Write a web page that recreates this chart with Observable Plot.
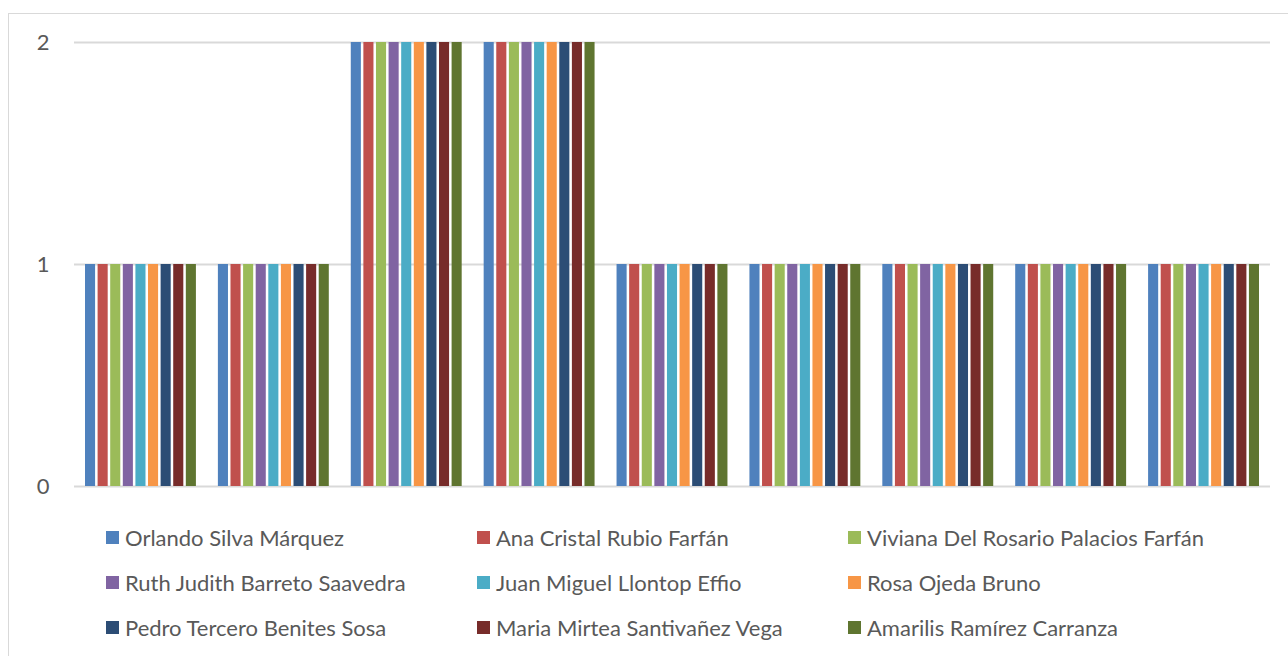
<!DOCTYPE html>
<html>
<head>
<meta charset="utf-8">
<script src="https://cdn.jsdelivr.net/npm/d3@7"></script>
<script src="https://cdn.jsdelivr.net/npm/@observablehq/plot@0.6"></script>
<style>
  html, body { margin: 0; padding: 0; background: #fff; overflow: hidden; }
  #frame { position: absolute; left: 8px; top: 13px; width: 1400px; height: 800px; border: 1.5px solid #d9d9d9; box-sizing: border-box; }
  #grid, #chart { position: absolute; left: 0; top: 0; }
  #legend { position: absolute; left: 0; top: 0; font-family: Lato, "Open Sans", sans-serif; font-size: 22px; color: #595959; }
  .item { position: absolute; display: flex; align-items: center; white-space: nowrap; }
  .sw { width: 13px; height: 13px; margin-right: 6px; }
</style>
</head>
<body>
<div id="frame"></div>
<div id="grid"></div>
<div id="chart"></div>
<div id="legend"></div>
<script>
const groups = ["1","2","3","4","5","6","7","8","9"];
const seriesNames = [
  "Orlando Silva Márquez",
  "Ana Cristal Rubio Farfán",
  "Viviana Del Rosario Palacios Farfán",
  "Ruth Judith Barreto Saavedra",
  "Juan Miguel Llontop Effio",
  "Rosa Ojeda Bruno",
  "Pedro Tercero Benites Sosa",
  "Maria Mirtea Santivañez Vega",
  "Amarilis Ramírez Carranza"
];
const colors = ["#4F81BD","#C0504D","#9BBB59","#8064A2","#4BACC6","#F79646","#2C4D75","#772C2A","#5F7530"];
const orlando   = [1,1,2,2,1,1,1,1,1];
const ana       = [1,1,2,2,1,1,1,1,1];
const viviana   = [1,1,2,2,1,1,1,1,1];
const ruth      = [1,1,2,2,1,1,1,1,1];
const juan      = [1,1,2,2,1,1,1,1,1];
const rosa      = [1,1,2,2,1,1,1,1,1];
const pedro     = [1,1,2,2,1,1,1,1,1];
const maria     = [1,1,2,2,1,1,1,1,1];
const amarilis  = [1,1,2,2,1,1,1,1,1];
const seriesValues = [orlando, ana, viviana, ruth, juan, rosa, pedro, maria, amarilis];
const yTicks = [0,1,2];

const data = [];
groups.forEach((g, gi) => {
  seriesNames.forEach((s, si) => {
    data.push({group: g, series: s, value: seriesValues[si][gi]});
  });
});

const font = {fontFamily: "Lato, 'Open Sans', sans-serif", fontSize: "22px", color: "#595959", background: "transparent"};

// Background: y axis + gridlines across the full plot area
const gridPlot = Plot.plot({
  width: 1288,
  height: 510,
  marginLeft: 74,
  marginRight: 18,
  marginTop: 42,
  marginBottom: 24,
  style: font,
  y: {domain: [0, 2], ticks: yTicks, tickSize: 0, tickPadding: 25, tickFormat: d3.format("d"), label: null},
  marks: [
    Plot.ruleY(yTicks, {stroke: "#d9d9d9", strokeWidth: 2, strokeOpacity: 1})
  ]
});
document.getElementById("grid").appendChild(gridPlot);

// Foreground: clustered bars
const barPlot = Plot.plot({
  width: 1288,
  height: 510,
  marginLeft: 85,
  marginRight: 29,
  marginTop: 42,
  marginBottom: 24,
  style: font,
  fx: {domain: groups, paddingInner: 0.1654, paddingOuter: 0, round: false, axis: null, label: null},
  x: {domain: seriesNames, paddingInner: 0.2, paddingOuter: 0, round: false, axis: null},
  y: {domain: [0, 2], axis: null},
  color: {domain: seriesNames, range: colors},
  marks: [
    Plot.barY(data, {fx: "group", x: "series", y: "value", fill: "series"})
  ]
});
document.getElementById("chart").appendChild(barPlot);

const legend = document.getElementById("legend");
const colX = [106, 477, 848];
const rowY = [537, 582, 627];
seriesNames.forEach((s, i) => {
  const d = document.createElement("div");
  d.className = "item";
  d.style.left = colX[i % 3] + "px";
  d.style.top = (rowY[Math.floor(i / 3)] - 13) + "px";
  d.style.height = "26px";
  d.innerHTML = `<span class="sw" style="background:${colors[i]}"></span><span>${s}</span>`;
  legend.appendChild(d);
});
</script>
</body>
</html>
